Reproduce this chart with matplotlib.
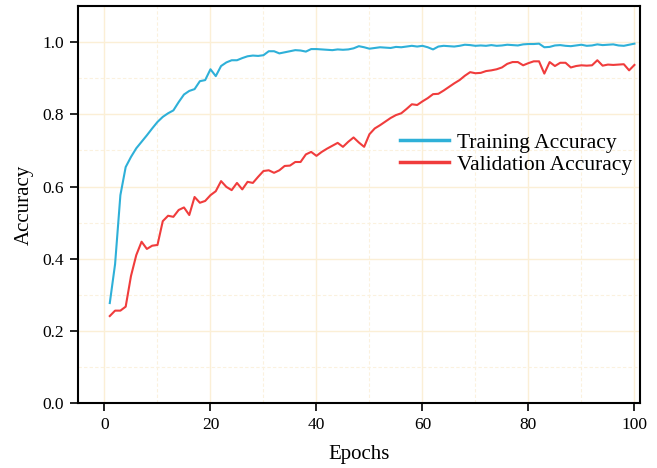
import numpy as np
import matplotlib
matplotlib.use("Agg")
import matplotlib.pyplot as plt
from matplotlib.ticker import MultipleLocator

plt.rcParams['font.family'] = ['Liberation Serif', 'DejaVu Serif']

# accuracy per epoch
epochs = np.arange(1, 101)
train_acc = [
    0.277, 0.385, 0.576, 0.654, 0.682, 0.706, 0.724, 0.742, 0.761, 0.779,
    0.793, 0.803, 0.811, 0.834, 0.855, 0.865, 0.870, 0.892, 0.895, 0.925,
    0.906, 0.934, 0.944, 0.950, 0.950, 0.956, 0.961, 0.963, 0.962, 0.964,
    0.975, 0.975, 0.969, 0.972, 0.975, 0.978, 0.977, 0.974, 0.981, 0.981,
    0.980, 0.979, 0.978, 0.980, 0.979, 0.980, 0.983, 0.989, 0.986, 0.982,
    0.984, 0.986, 0.985, 0.984, 0.987, 0.986, 0.988, 0.990, 0.988, 0.990,
    0.986, 0.980, 0.988, 0.990, 0.989, 0.988, 0.990, 0.993, 0.992, 0.990,
    0.991, 0.990, 0.992, 0.990, 0.991, 0.993, 0.992, 0.991, 0.994, 0.995,
    0.995, 0.996, 0.986, 0.987, 0.991, 0.992, 0.990, 0.989, 0.991, 0.993,
    0.990, 0.991, 0.994, 0.992, 0.993, 0.994, 0.991, 0.990, 0.993, 0.996,
]
val_acc = [
    0.241, 0.256, 0.256, 0.267, 0.352, 0.410, 0.447, 0.427, 0.436, 0.438,
    0.504, 0.519, 0.516, 0.535, 0.542, 0.521, 0.571, 0.555, 0.560, 0.576,
    0.587, 0.615, 0.599, 0.590, 0.610, 0.592, 0.613, 0.610, 0.627, 0.643,
    0.645, 0.638, 0.645, 0.657, 0.658, 0.668, 0.668, 0.689, 0.696, 0.685,
    0.696, 0.705, 0.713, 0.721, 0.710, 0.724, 0.736, 0.722, 0.710, 0.745,
    0.761, 0.770, 0.780, 0.790, 0.798, 0.803, 0.815, 0.828, 0.826, 0.836,
    0.845, 0.856, 0.857, 0.866, 0.876, 0.886, 0.895, 0.907, 0.917, 0.914,
    0.915, 0.920, 0.922, 0.925, 0.930, 0.940, 0.945, 0.945, 0.936, 0.942,
    0.947, 0.947, 0.913, 0.945, 0.934, 0.943, 0.943, 0.930, 0.934, 0.936,
    0.935, 0.936, 0.950, 0.935, 0.938, 0.937, 0.938, 0.939, 0.922, 0.937,
]

fig = plt.figure(figsize=(6.57, 4.68), dpi=100)
ax = fig.add_axes([0.1187, 0.1389, 0.855, 0.848])

ax.plot(epochs, train_acc, color='#2eb0d8', lw=1.5, label='Training Accuracy')
ax.plot(epochs, val_acc, color='#f03c3c', lw=1.5, label='Validation Accuracy')

ax.set_xlim(-5, 101)
ax.set_ylim(0, 1.1)
ax.xaxis.set_major_locator(MultipleLocator(20))
ax.xaxis.set_minor_locator(MultipleLocator(10))
ax.yaxis.set_major_locator(MultipleLocator(0.2))
ax.yaxis.set_minor_locator(MultipleLocator(0.1))
ax.yaxis.set_major_formatter(matplotlib.ticker.FormatStrFormatter('%.1f'))

ax.grid(which='major', color='#fbefd6', lw=1.0, ls='-')
ax.grid(which='minor', color='#fbf1de', lw=0.8, ls=(0, (3, 2)))
ax.set_axisbelow(True)

ax.tick_params(which='major', direction='out', length=6, width=1.2,
               labelsize=12.5, pad=4)
ax.tick_params(which='minor', length=0)
for sp in ax.spines.values():
    sp.set_linewidth(1.5)

ax.set_xlabel('Epochs', fontsize=15, labelpad=9)
ax.set_ylabel('Accuracy', fontsize=15, labelpad=6)

leg = ax.legend(loc='center left', bbox_to_anchor=(0.573, 0.628), frameon=False,
                fontsize=15.5, handlelength=2.3, handletextpad=0.35,
                labelspacing=0.1, borderpad=0, borderaxespad=0)
for h in leg.get_lines():
    h.set_linewidth(2.5)

fig.savefig('out.png', dpi=100)
